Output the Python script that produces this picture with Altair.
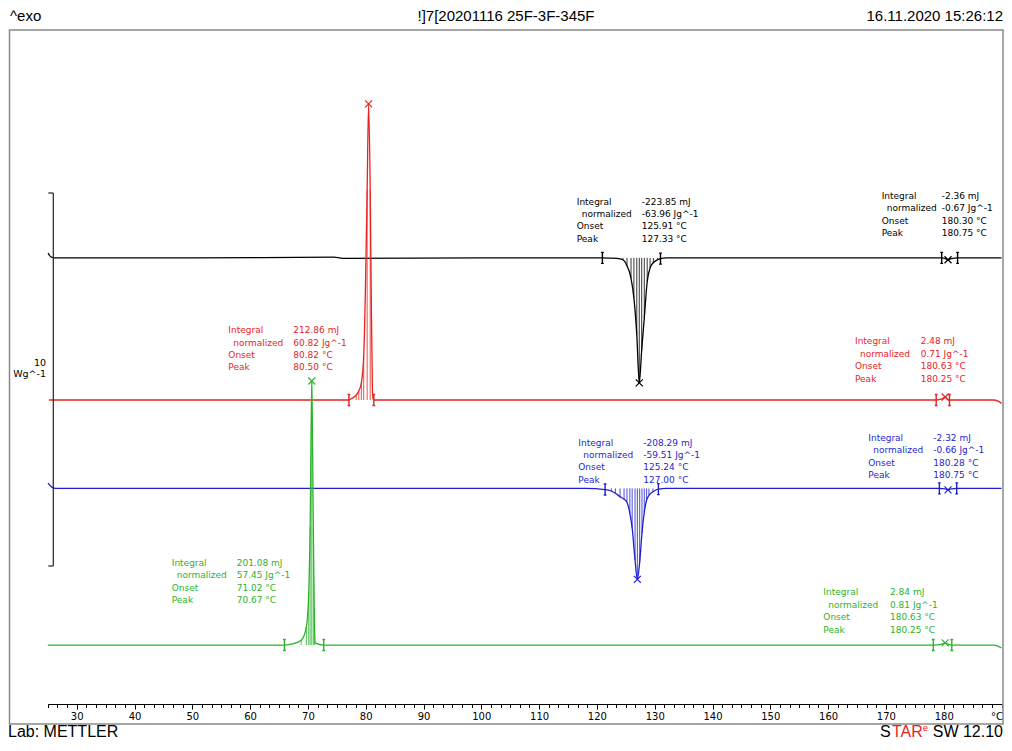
import altair as alt
import pandas as pd

# ---------------- values ----------------
# Temperature (°C) and heat flow (W/g) relative to each curve's own baseline
BLACK_T = [25.05, 25.5, 26.2, 50.0, 74.5, 76.0, 100.0, 120.95, 123.5, 124.5, 125.2, 125.9,
           126.4, 126.9, 127.33, 127.75, 128.2, 128.7, 129.2, 129.76, 130.5, 131.0, 132.0,
           150.0, 179.65, 180.3, 180.75, 181.3, 182.4, 190.0]
BLACK_HF = [0.13, 0.03, 0.0, 0.0, 0.02, -0.01, 0.0, 0.0, -0.01, -0.05, -0.21, -0.54,
            -1.07, -2.06, -3.35, -2.47, -1.61, -0.64, -0.27, -0.13, -0.05, -0.02, 0.0,
            0.0, 0.0, -0.02, -0.05, -0.02, 0.0, 0.0]

RED_T = [25.2, 50.0, 77.1, 77.55, 78.35, 78.8, 79.25, 79.65, 79.95, 80.25, 80.5, 80.78,
         80.95, 81.15, 81.25, 81.4, 100.0, 150.0, 178.7, 179.7, 180.25, 180.6, 181.0,
         188.6, 189.4, 190.0]
RED_HF = [0.0, 0.0, 0.0, 0.04, 0.13, 0.24, 0.46, 1.15, 2.95, 5.63, 7.94, 5.63,
          2.95, 0.40, 0.05, 0.0, 0.0, 0.0, 0.0, 0.03, 0.08, 0.03, 0.0,
          0.0, -0.03, -0.09]

BLUE_T = [25.03, 25.7, 26.4, 60.0, 100.0, 118.0, 121.42, 122.5, 123.2, 124.0, 124.7,
          125.2, 125.7, 126.1, 126.6, 127.0, 127.4, 127.8, 128.2, 128.6, 129.0, 129.7,
          130.64, 132.0, 150.0, 179.25, 180.3, 180.75, 181.3, 182.25, 190.0]
BLUE_HF = [0.14, 0.035, 0.0, 0.0, 0.0, 0.0, -0.03, -0.07, -0.13, -0.22, -0.29,
           -0.37, -0.66, -1.06, -1.92, -2.44, -1.98, -1.20, -0.64, -0.31, -0.19, -0.09,
           -0.02, 0.0, 0.0, 0.0, -0.01, -0.04, -0.01, 0.0, 0.0]

GREEN_T = [25.0, 50.0, 65.94, 67.34, 68.84, 69.74, 70.14, 70.39, 70.67, 70.94, 71.14,
           71.31, 72.74, 100.0, 150.0, 178.2, 179.6, 180.25, 180.8, 181.4, 188.6, 189.4, 190.0]
GREEN_HF = [0.0, 0.0, 0.0, 0.03, 0.13, 0.49, 1.39, 3.17, 7.08, 3.17, 0.49,
            0.05, 0.0, 0.0, 0.0, 0.0, 0.02, 0.06, 0.02, 0.0, 0.0, -0.03, -0.08]

CURVES = ["black", "red", "blue", "green"]
CURVE_DATA = {"black": (BLACK_T, BLACK_HF), "red": (RED_T, RED_HF),
              "blue": (BLUE_T, BLUE_HF), "green": (GREEN_T, GREEN_HF)}
# vertical shift of each curve on the plot (W/g)
CURVE_SHIFT = {"black": 11.96, "red": 8.15, "blue": 5.78, "green": 1.58}
COLORS = {"black": "#000000", "red": "#e8231f", "blue": "#1f1fd1", "green": "#2db22d"}

# hatching lines inside the integrated peaks (temperatures)
HATCH = {"black": [124.5, 125.2, 125.9, 126.4, 126.9, 127.33, 127.75, 128.2, 128.7, 129.2, 129.76, 130.5],
         "red": [78.35, 78.8, 79.25, 79.65, 80.25, 80.78],
         "blue": [122.5, 123.2, 124.0, 124.7, 125.2, 125.7, 126.1, 126.6, 127.0, 127.4,
                  127.8, 128.2, 128.6, 129.0, 129.7],
         "green": [68.84, 69.74, 70.14, 70.39, 70.67, 70.94, 71.14]}
# integration limits
LIMITS = {"black": [120.95, 131.0, 179.65, 182.4],
          "red": [77.1, 81.4, 178.7, 181.0],
          "blue": [121.42, 130.64, 179.25, 182.25],
          "green": [65.94, 72.74, 178.2, 181.4]}
# peak temperatures
PEAKS = {"black": [127.33, 180.75], "red": [80.5, 180.25],
         "blue": [127.0, 180.75], "green": [70.67, 180.25]}

# evaluation texts: curve, anchor T of label column, anchor T of value column, anchor heat flow, values
ANNOT = [
    ("black", 116.51, 127.75, 13.39, ["-223.85 mJ", "-63.96 Jg^-1", "125.91 °C", "127.33 °C"]),
    ("black", 169.27, 179.65, 13.54, ["-2.36 mJ", "-0.67 Jg^-1", "180.30 °C", "180.75 °C"]),
    ("red", 56.23, 67.47, 9.94, ["212.86 mJ", "60.82 Jg^-1", "80.82 °C", "80.50 °C"]),
    ("red", 164.65, 176.02, 9.64, ["2.48 mJ", "0.71 Jg^-1", "180.63 °C", "180.25 °C"]),
    ("blue", 116.78, 128.03, 6.93, ["-208.29 mJ", "-59.51 Jg^-1", "125.24 °C", "127.00 °C"]),
    ("blue", 166.95, 178.2, 7.05, ["-2.32 mJ", "-0.66 Jg^-1", "180.28 °C", "180.75 °C"]),
    ("green", 46.44, 57.68, 3.70, ["201.08 mJ", "57.45 Jg^-1", "71.02 °C", "70.67 °C"]),
    ("green", 159.17, 170.71, 2.91, ["2.84 mJ", "0.81 Jg^-1", "180.63 °C", "180.25 °C"]),
]
ROW_LABELS = ["Integral", "normalized", "Onset", "Peak"]

MAJOR_TICKS = [30, 40, 50, 60, 70, 80, 90, 100, 110, 120, 130, 140, 150, 160, 170, 180]
MINOR_TICKS = [round(25 + i * 10 / 6, 4) for i in range(100)]

SCALE_BAR_LO = 3.70   # W/g
SCALE_BAR_LEN = 10    # W/g

HEADER_LEFT = "^exo"
HEADER_MID = "!]7[20201116 25F-3F-345F"
HEADER_RIGHT = "16.11.2020 15:26:12"

# ---------------- tables ----------------
rows, hatch_rows, lim_rows, peak_rows, text_rows = [], [], [], [], []
for c in CURVES:
    ts, hs = CURVE_DATA[c]
    lookup = dict(zip(ts, hs))
    s = CURVE_SHIFT[c]
    for t, h in zip(ts, hs):
        rows.append({"curve": c, "T": t, "v": s + h})
    for t in HATCH[c]:
        hatch_rows.append({"curve": c, "T": t, "v0": s, "v": s + lookup[t]})
    for t in LIMITS[c]:
        lim_rows.append({"curve": c, "T": t, "v": s + lookup[t]})
    for t in PEAKS[c]:
        peak_rows.append({"curve": c, "T": t, "v": s + lookup[t]})
for c, tl, tv, v, vals in ANNOT:
    text_rows.append({"curve": c, "T": tl, "v": v, "kind": "first", "text": ROW_LABELS[0]})
    text_rows.append({"curve": c, "T": tl, "v": v, "kind": "norm", "text": ROW_LABELS[1]})
    text_rows.append({"curve": c, "T": tl, "v": v, "kind": "rest", "text": "\n".join(ROW_LABELS[2:])})
    text_rows.append({"curve": c, "T": tv, "v": v, "kind": "first", "text": "\n".join(vals)})

curve_df = pd.DataFrame(rows)
hatch_df = pd.DataFrame(hatch_rows)
lim_df = pd.DataFrame(lim_rows)
peak_df = pd.DataFrame(peak_rows)
text_df = pd.DataFrame(text_rows)
bar_df = pd.DataFrame({"lo": [SCALE_BAR_LO], "hi": [SCALE_BAR_LO + SCALE_BAR_LEN]})
one = pd.DataFrame({"a": [0]})

# ---------------- chart ----------------
W, H = 996, 733
LINE_H = 12.4
xscale = alt.Scale(domain=[25, 190], range=[39.8, 993.5], nice=False, zero=False)
yscale = alt.Scale(domain=[-0.992, 18.66], nice=False, zero=False)
cscale = alt.Scale(domain=CURVES, range=[COLORS[c] for c in CURVES])
color = alt.Color("curve:N", scale=cscale, legend=None)
FONT = "DejaVu Sans"

major_axis = alt.Axis(values=MAJOR_TICKS, tickSize=5, tickColor="black", domain=True,
                      domainColor="black", domainWidth=1, labelFont=FONT, labelFontSize=10,
                      labelColor="black", labelPadding=2, offset=-37, grid=False, title=None,
                      labelFlush=False, format="d", orient="bottom")
minor_axis = alt.Axis(values=MINOR_TICKS, tickSize=3.5, tickColor="black", domain=False,
                      labels=False, offset=-37, grid=False, title=None, orient="bottom")

Y = alt.Y("v:Q", scale=yscale, axis=None)
XN = alt.X("T:Q", scale=xscale, axis=None)

frame = alt.Chart(one).mark_rect(fillOpacity=0, stroke="#8a8a8a", strokeWidth=1.5).encode(
    x=alt.value(1.5), x2=alt.value(995), y=alt.value(22), y2=alt.value(716))

curves = alt.Chart(curve_df).mark_line(strokeWidth=1.3, interpolate="monotone").encode(
    x=alt.X("T:Q", scale=xscale, axis=major_axis), y=Y, color=color, detail="curve:N")

hatch = alt.Chart(hatch_df).mark_rule(strokeWidth=0.8).encode(
    x=alt.X("T:Q", scale=xscale, axis=minor_axis),
    y=alt.Y("v0:Q", scale=yscale, axis=None), y2="v:Q", color=color)

limits = alt.Chart(lim_df).mark_point(
    shape="M0,-1L0,1M-0.25,-1H0.25M-0.25,1H0.25", size=121, filled=False,
    strokeWidth=1.4, opacity=1).encode(x=XN, y=Y, color=color)

peaks = alt.Chart(peak_df).mark_point(
    shape="M-1,-1L1,1M-1,1L1,-1", size=49, filled=False, strokeWidth=1.2, opacity=1).encode(
    x=XN, y=Y, color=color)


def text_layer(kind, dx=0, dy=0):
    return alt.Chart(text_df).transform_filter(alt.datum.kind == kind).mark_text(
        align="left", baseline="alphabetic", font=FONT, fontSize=9, lineBreak="\n",
        lineHeight=LINE_H, dx=dx, dy=dy).encode(x=XN, y=Y, text="text:N", color=color)


texts = [text_layer("first"), text_layer("norm", dx=5, dy=LINE_H),
         text_layer("rest", dy=2 * LINE_H)]

bar = alt.Chart(bar_df).mark_rule(color="#222222", strokeWidth=1.2).encode(
    x=alt.value(45.3), y=alt.Y("lo:Q", scale=yscale, axis=None), y2="hi:Q")
bar_lo = alt.Chart(bar_df).mark_rule(color="#222222", strokeWidth=1.2).encode(
    x=alt.value(40.3), x2=alt.value(45.3), y=alt.Y("lo:Q", scale=yscale, axis=None))
bar_hi = alt.Chart(bar_df).mark_rule(color="#222222", strokeWidth=1.2).encode(
    x=alt.value(40.3), x2=alt.value(45.3), y=alt.Y("hi:Q", scale=yscale, axis=None))


def label(txt, x, y, align="left", size=10, color="black", font=FONT, baseline="middle"):
    return alt.Chart(one).mark_text(text=txt, align=align, baseline=baseline, font=font,
                                    fontSize=size, color=color).encode(
        x=alt.value(x), y=alt.value(y))


HFONT = "Liberation Sans"
decor = [
    label(str(SCALE_BAR_LEN), 38, 355, align="right", size=9.5),
    label("Wg^-1", 38, 366, align="right", size=9.5),
    label("°C", 989, 708.5, align="center", size=10),
    label(HEADER_LEFT, 2, 13, size=15, font=HFONT, baseline="alphabetic"),
    label(HEADER_MID, 498, 13, align="center", size=15, font=HFONT, baseline="alphabetic"),
    label(HEADER_RIGHT, 995, 13, align="right", size=15, font=HFONT, baseline="alphabetic"),
    label("Lab: METTLER", 0, 729, size=16, font=HFONT, baseline="alphabetic"),
    label("SW 12.10", 995, 729, align="right", size=16, font=HFONT, baseline="alphabetic"),
    label("e", 920, 722.5, align="right", size=9.5, font=HFONT, baseline="alphabetic", color="#e8231f"),
    label("TAR", 914.7, 729, align="right", size=16, font=HFONT, baseline="alphabetic", color="#e8231f"),
    label("S", 882.7, 729, align="right", size=16, font=HFONT, baseline="alphabetic"),
]

chart = alt.layer(frame, curves, hatch, limits, peaks, *texts, bar, bar_lo, bar_hi, *decor).resolve_axis(
    x="independent").properties(
    width=W, height=H, padding=0, autosize=alt.AutoSizeParams(type="none"),
    background="white").configure_view(strokeWidth=0)

chart.save("out.html", embed_options={"renderer": "svg", "actions": False})
